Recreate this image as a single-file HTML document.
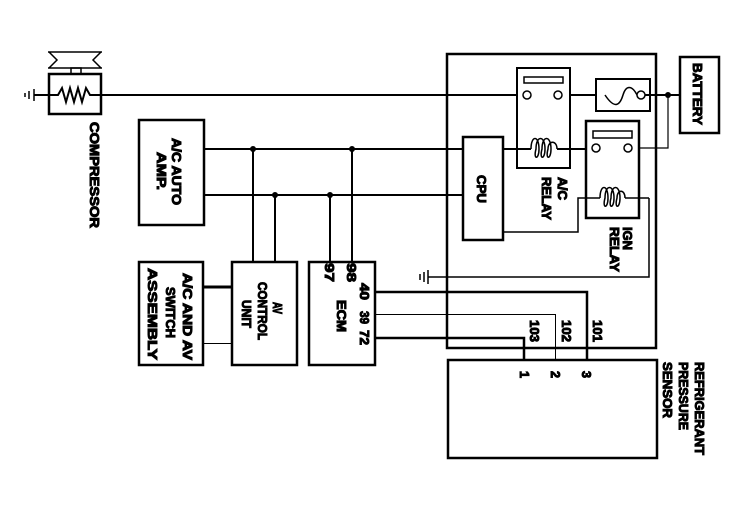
<!DOCTYPE html>
<html><head><style>html,body{margin:0;padding:0;background:#fff}svg{display:block}text{font-family:"Liberation Sans",Arial,sans-serif;font-weight:bold;font-size:13px;fill:#000}</style></head>
<body>
<svg width="748" height="512" viewBox="0 0 748 512" xmlns="http://www.w3.org/2000/svg" fill="none" stroke="#000">
<!-- compressor -->
<rect x="49" y="74" width="52" height="40" stroke-width="2.5"/>
<path d="M48 52 H102 M48 68 H102 M49 52 L57 60 L49 68 M101 52 L93 60 L101 68" stroke-width="1.5"/>
<rect x="71" y="68" width="10" height="6" stroke-width="1.5"/>
<path d="M34 95 H58 L62 88 L66 102 L70 88 L74 102 L78 88 L82 102 L86 88 L90 95 H680" stroke-width="2"/>
<path d="M34 89 V101 M29 91 V99 M25 93 V97" stroke-width="1.5"/>
<g transform="translate(90,122) rotate(90)"><text textLength="106" lengthAdjust="spacingAndGlyphs">COMPRESSOR</text></g>
<!-- AC auto amp -->
<rect x="139" y="120" width="65" height="105" stroke-width="2.5"/>
<g transform="translate(172,138) rotate(90)"><text textLength="67" lengthAdjust="spacingAndGlyphs">A/C AUTO</text></g>
<g transform="translate(157,152) rotate(90)"><text textLength="38" lengthAdjust="spacingAndGlyphs">AMP.</text></g>
<path d="M204 149 H463 M204 195 H463 M253 149 V262 M352 149 V262 M275 195 V262 M330 195 V262" stroke-width="2"/>
<g fill="#000" stroke="none"><circle cx="253" cy="149" r="3"/><circle cx="352" cy="149" r="3"/><circle cx="275" cy="195" r="3"/><circle cx="330" cy="195" r="3"/><circle cx="668" cy="95" r="3"/><circle cx="605" cy="95" r="3.5"/></g>
<!-- switch assy, av control, ecm -->
<rect x="139" y="262" width="64" height="103" stroke-width="2.5"/>
<rect x="232" y="262" width="65" height="103" stroke-width="2.5"/>
<rect x="309" y="262" width="66" height="103" stroke-width="2.5"/>
<path d="M203 287 H232" stroke-width="3"/>
<path d="M203 343.5 H232" stroke-width="1"/>
<g transform="translate(183,273) rotate(90)"><text textLength="87" lengthAdjust="spacingAndGlyphs">A/C AND AV</text></g>
<g transform="translate(166,287) rotate(90)"><text textLength="51" lengthAdjust="spacingAndGlyphs">SWITCH</text></g>
<g transform="translate(148,268) rotate(90)"><text textLength="92" lengthAdjust="spacingAndGlyphs">ASSEMBLY</text></g>
<g transform="translate(273,302) rotate(90)"><text textLength="12" lengthAdjust="spacingAndGlyphs">AV</text></g>
<g transform="translate(258,282) rotate(90)"><text textLength="58" lengthAdjust="spacingAndGlyphs">CONTROL</text></g>
<g transform="translate(242,300) rotate(90)"><text textLength="28" lengthAdjust="spacingAndGlyphs">UNIT</text></g>
<g transform="translate(325,263) rotate(90)"><text textLength="19" lengthAdjust="spacingAndGlyphs">97</text></g>
<g transform="translate(347,263) rotate(90)"><text textLength="19" lengthAdjust="spacingAndGlyphs">98</text></g>
<g transform="translate(360,283) rotate(90)"><text textLength="17" lengthAdjust="spacingAndGlyphs">40</text></g>
<g transform="translate(360,311) rotate(90)"><text textLength="13" lengthAdjust="spacingAndGlyphs">39</text></g>
<g transform="translate(360,330) rotate(90)"><text textLength="15" lengthAdjust="spacingAndGlyphs">72</text></g>
<g transform="translate(337,300) rotate(90)"><text textLength="32" lengthAdjust="spacingAndGlyphs">ECM</text></g>
<!-- ecm wires -->
<path d="M375 292 H587 V360 M375 338 H524 V360" stroke-width="2.5"/>
<path d="M375 314.5 H555.5 V360" stroke-width="1"/>
<!-- ground -->
<path d="M428 277 H649 V198" stroke-width="1.5"/>
<path d="M428 270 V284 M424 272 V282 M420 274 V280" stroke-width="1.5"/>
<!-- big box -->
<rect x="447" y="54" width="209" height="294" stroke-width="2.5"/>
<!-- sensor -->
<rect x="448" y="360" width="209" height="98" stroke-width="2.5"/>
<g transform="translate(530,320) rotate(90)"><text textLength="22" lengthAdjust="spacingAndGlyphs">103</text></g>
<g transform="translate(562,320) rotate(90)"><text textLength="22" lengthAdjust="spacingAndGlyphs">102</text></g>
<g transform="translate(593,320) rotate(90)"><text textLength="22" lengthAdjust="spacingAndGlyphs">101</text></g>
<g transform="translate(520,371) rotate(90)"><text textLength="7" lengthAdjust="spacingAndGlyphs">1</text></g>
<g transform="translate(551,371) rotate(90)"><text textLength="7" lengthAdjust="spacingAndGlyphs">2</text></g>
<g transform="translate(582,371) rotate(90)"><text textLength="7" lengthAdjust="spacingAndGlyphs">3</text></g>
<g transform="translate(695,362) rotate(90)"><text textLength="93" lengthAdjust="spacingAndGlyphs">REFRIGERANT</text></g>
<g transform="translate(679,362) rotate(90)"><text textLength="68" lengthAdjust="spacingAndGlyphs">PRESSURE</text></g>
<g transform="translate(663,362) rotate(90)"><text textLength="56" lengthAdjust="spacingAndGlyphs">SENSOR</text></g>
<!-- battery -->
<rect x="680" y="57" width="39" height="76" stroke-width="2.5"/>
<g transform="translate(693,63) rotate(90)"><text textLength="62" lengthAdjust="spacingAndGlyphs">BATTERY</text></g>
<!-- CPU -->
<rect x="463" y="137" width="40" height="103" stroke-width="2.5"/>
<g transform="translate(477,175) rotate(90)"><text textLength="28" lengthAdjust="spacingAndGlyphs">CPU</text></g>
<!-- AC relay -->
<rect x="517" y="68" width="53" height="100" fill="#fff" stroke-width="2"/>
<rect x="524" y="77" width="39" height="6" stroke-width="1.5"/>
<path d="M503 149 H531 M557 149 H592" stroke-width="2"/>
<path d="M531 149 C531 135 539 135 539 149 C539 160 533 160 536 149 C536 135 545 135 545 149 C545 160 539 160 542 149 C542 135 551 135 551 149 C551 160 545 160 548 149 C548 140 557 140 557 149" stroke-width="1.5"/>
<g transform="translate(558,177) rotate(90)"><text textLength="23" lengthAdjust="spacingAndGlyphs">A/C</text></g>
<g transform="translate(542,177) rotate(90)"><text textLength="43" lengthAdjust="spacingAndGlyphs">RELAY</text></g>
<!-- fuse -->
<rect x="596" y="79" width="54" height="32" fill="#fff" stroke-width="2"/>
<path d="M605 95 C615 110 620 105 623 95 C626 85 632 85 637 95" stroke-width="1.5"/>
<path d="M645 95 H680" stroke-width="2"/>
<path d="M668 95 V148 H632" stroke-width="1.2"/>
<!-- IGN relay -->
<rect x="586" y="121" width="53" height="97" fill="#fff" stroke-width="2.5"/>
<rect x="593" y="131" width="39" height="7" stroke-width="1.5"/>
<path d="M503 232 H578 V198 H600 M625 198 H649" stroke-width="1.5"/>
<path d="M600 198 C600 184 608 184 608 198 C608 209 602 209 605 198 C605 184 614 184 614 198 C614 209 608 209 611 198 C611 184 620 184 620 198 C620 209 614 209 617 198 C617 189 625 189 625 198" stroke-width="1.5"/>
<g transform="translate(623,227) rotate(90)"><text textLength="23" lengthAdjust="spacingAndGlyphs">IGN</text></g>
<g transform="translate(610,227) rotate(90)"><text textLength="45" lengthAdjust="spacingAndGlyphs">RELAY</text></g>
<!-- contact circles -->
<g fill="#fff" stroke-width="1.5">
<circle cx="527" cy="95" r="4"/><circle cx="558" cy="95" r="4"/>
<circle cx="641" cy="95" r="4"/>
<circle cx="596" cy="148" r="4"/><circle cx="628" cy="148" r="4"/>
</g>
</svg>
</body></html>
